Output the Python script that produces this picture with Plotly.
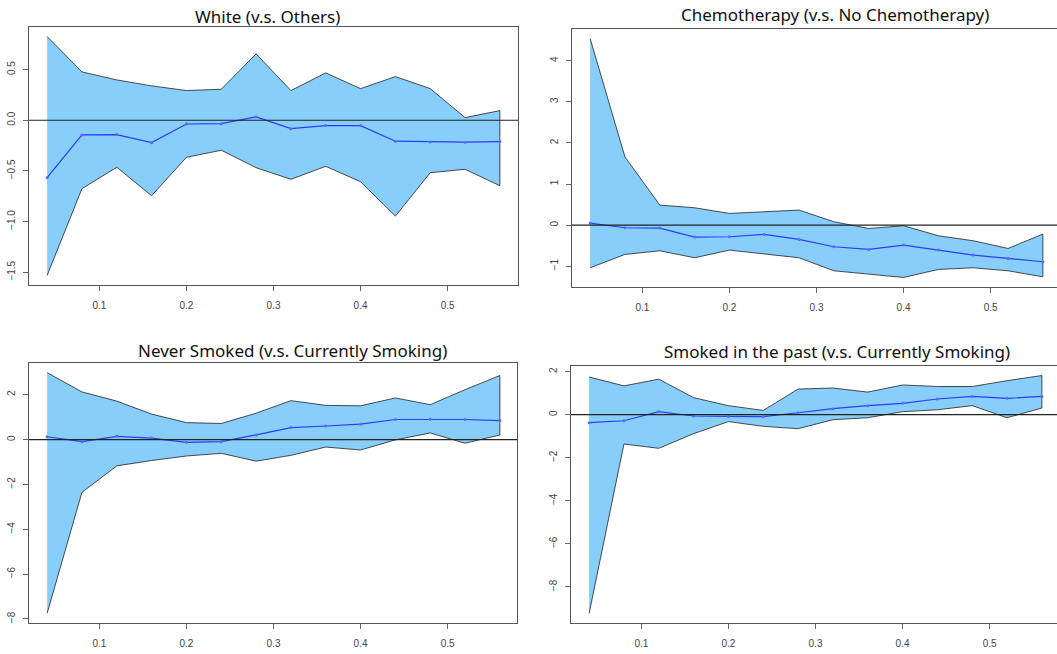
import plotly.graph_objects as go

x_vals = [0.04, 0.08, 0.12, 0.16, 0.20, 0.24, 0.28, 0.32, 0.36, 0.40, 0.44, 0.48, 0.52, 0.56]

titles = ["White (v.s. Others)", "Chemotherapy (v.s. No Chemotherapy)",
          "Never Smoked (v.s. Currently Smoking)", "Smoked in the past (v.s. Currently Smoking)"]

white_upper = [0.826, 0.477, 0.398, 0.339, 0.293, 0.306, 0.655, 0.293, 0.467, 0.312, 0.431, 0.312, 0.026, 0.095]
white_lower = [-1.532, -0.676, -0.464, -0.745, -0.366, -0.296, -0.468, -0.583, -0.455, -0.607, -0.946, -0.518, -0.484, -0.646]
white_mean = [-0.567, -0.145, -0.142, -0.221, -0.037, -0.034, 0.033, -0.083, -0.053, -0.053, -0.207, -0.214, -0.217, -0.211]

chemo_upper = [4.54, 1.66, 0.487, 0.422, 0.284, 0.316, 0.365, 0.081, -0.081, -0.016, -0.26, -0.381, -0.568, -0.219]
chemo_lower = [-1.039, -0.714, -0.625, -0.795, -0.609, -0.706, -0.795, -1.112, -1.193, -1.274, -1.079, -1.039, -1.112, -1.258]
chemo_mean = [0.049, -0.065, -0.073, -0.292, -0.284, -0.227, -0.349, -0.527, -0.592, -0.487, -0.609, -0.730, -0.811, -0.892]

never_upper = [2.99, 2.13, 1.72, 1.14, 0.76, 0.72, 1.18, 1.74, 1.53, 1.51, 1.86, 1.56, 2.23, 2.86]
never_lower = [-7.75, -2.35, -1.17, -0.93, -0.73, -0.61, -0.96, -0.70, -0.33, -0.46, -0.01, 0.30, -0.16, 0.21]
never_mean = [0.13, -0.09, 0.15, 0.07, -0.12, -0.09, 0.21, 0.54, 0.61, 0.69, 0.90, 0.91, 0.90, 0.85]

past_upper = [1.75, 1.34, 1.65, 0.79, 0.42, 0.20, 1.19, 1.24, 1.05, 1.38, 1.31, 1.31, 1.58, 1.82]
past_lower = [-9.23, -1.36, -1.56, -0.88, -0.32, -0.54, -0.65, -0.23, -0.14, 0.14, 0.23, 0.42, -0.14, 0.31]
past_mean = [-0.37, -0.28, 0.14, -0.06, -0.08, -0.09, 0.09, 0.28, 0.42, 0.53, 0.73, 0.85, 0.76, 0.85]

x_ticks = [0.1, 0.2, 0.3, 0.4, 0.5]

panels = [
    dict(title=titles[0], up=white_upper, lo=white_lower, mean=white_mean, dtick=0.5, fmt=".1f"),
    dict(title=titles[1], up=chemo_upper, lo=chemo_lower, mean=chemo_mean, dtick=1, fmt="d"),
    dict(title=titles[2], up=never_upper, lo=never_lower, mean=never_mean, dtick=2, fmt="d"),
    dict(title=titles[3], up=past_upper, lo=past_lower, mean=past_mean, dtick=2, fmt="d"),
]

W, H = 1057, 654
# plot boxes in pixels: (left, right, top, bottom)
boxes = [(29, 518, 27, 285), (572, 1057, 29, 287), (29, 517, 363, 623), (571, 1057, 366, 623)]
title_pos = [(267, 16), (835, 14), (292, 350), (837, 351)]
full_width = 489.0

fig = go.Figure()
xmin, xmax = min(x_vals), max(x_vals)
xr = xmax - xmin
x0 = xmin - 0.04 * xr
x1 = xmax + 0.04 * xr

for i, p in enumerate(panels):
    n = i + 1
    xa = "x" if n == 1 else f"x{n}"
    ya = "y" if n == 1 else f"y{n}"
    fig.add_trace(go.Scatter(
        x=x_vals + x_vals[::-1], y=p["up"] + p["lo"][::-1],
        fill="toself", fillcolor="#87CEFA", mode="lines",
        line=dict(color="#222222", width=0.8),
        xaxis=xa, yaxis=ya, showlegend=False, hoverinfo="skip"))
    fig.add_trace(go.Scatter(
        x=x_vals, y=p["mean"], mode="lines+markers",
        line=dict(color="#2a3cff", width=1.2),
        marker=dict(size=3, color="#5a6cff"),
        xaxis=xa, yaxis=ya, showlegend=False))
    l, r, t, b = boxes[i]
    ymin = min(p["lo"]); ymax = max(p["up"])
    yr = ymax - ymin
    right_val = x0 + (x1 - x0) * (r - l) / full_width
    clipped = r >= W
    axis_common = dict(showgrid=False, zeroline=False, showline=True, linecolor="#555555",
                       linewidth=1, ticks="outside", ticklen=5, tickwidth=1, tickcolor="#666666",
                       tickfont=dict(family="Liberation Sans", size=10, color="#444444"))
    fig.layout[("xaxis" if n == 1 else f"xaxis{n}")] = dict(
        domain=[l / W, r / W], range=[x0, right_val], anchor=ya,
        tickmode="array", tickvals=x_ticks, ticktext=[str(v) for v in x_ticks],
        mirror=True, ticklabelstandoff=6, **axis_common)
    fig.layout[("yaxis" if n == 1 else f"yaxis{n}")] = dict(
        domain=[1 - b / H, 1 - t / H], range=[ymin - 0.04 * yr, ymax + 0.04 * yr], anchor=xa,
        dtick=p["dtick"], tickformat=p["fmt"], tickangle=-90,
        mirror=(not clipped), ticklabelstandoff=4, **axis_common)
    fig.add_shape(type="line", xref=f"{xa} domain", yref=ya, x0=0, x1=1, y0=0, y1=0,
                  line=dict(color="#222222", width=1.2))
    tx, ty = title_pos[i]
    fig.add_annotation(text=p["title"], xref="paper", yref="paper", x=tx / W, y=1 - ty / H,
                       xanchor="center", yanchor="middle", showarrow=False,
                       font=dict(family="Noto Sans", size=17, color="#111111"))

fig.update_layout(width=W, height=H, margin=dict(l=0, r=0, t=0, b=0),
                  paper_bgcolor="white", plot_bgcolor="white")
fig.write_html("out.html")
